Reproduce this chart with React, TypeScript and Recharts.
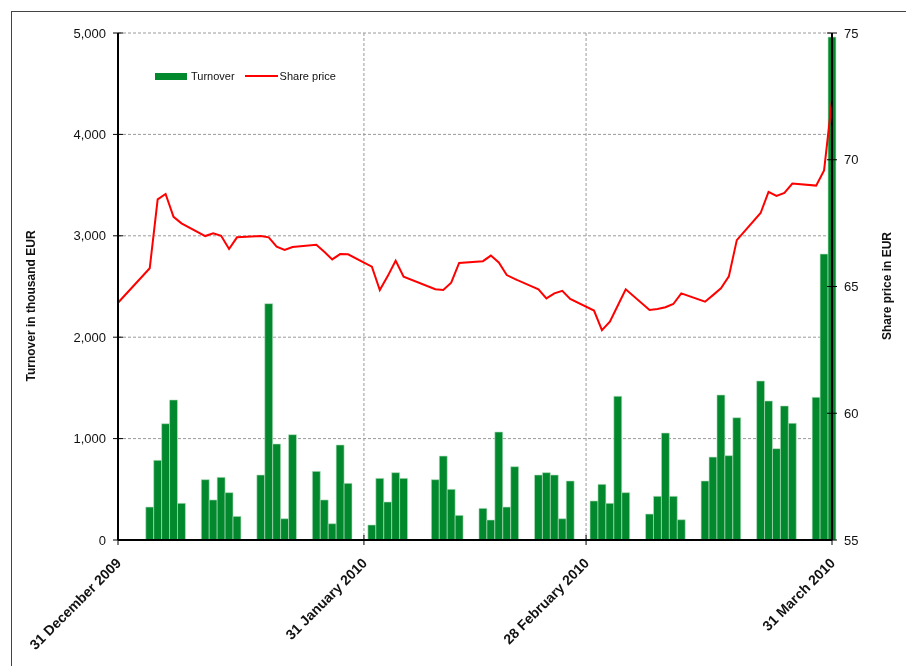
import React from 'react';
import {
  ComposedChart,
  Bar,
  Line,
  XAxis,
  YAxis,
  CartesianGrid,
  Legend,
  Label,
} from 'recharts';

// trading days, counted from 31 December 2009 (day 0)
const days = [
  0,
  4, 5, 6, 7, 8,
  11, 12, 13, 14, 15,
  18, 19, 20, 21, 22,
  25, 26, 27, 28, 29,
  32, 33, 34, 35, 36,
  40, 41, 42, 43,
  46, 47, 48, 49, 50,
  53, 54, 55, 56, 57,
  60, 61, 62, 63, 64,
  67, 68, 69, 70, 71,
  74, 75, 76, 77, 78,
  81, 82, 83, 84, 85,
  88, 89, 90,
];

// turnover in thousand EUR
const turnover = [
  null,
  325, 786, 1147, 1381, 362,
  595, 395, 618, 467, 233,
  641, 2331, 947, 210, 1039,
  677, 395, 161, 937, 559,
  148, 608, 375, 664, 608,
  595, 828, 500, 243,
  312, 197, 1065, 325, 723,
  641, 664, 641, 210, 582,
  385, 549, 362, 1417, 467,
  256, 431, 1055, 431, 200,
  582, 818, 1430, 832, 1206,
  1568, 1371, 901, 1322, 1151,
  1407, 2820, 4960,
];

// share price in EUR
const sharePrice = [
  64.36,
  65.72, 68.44, 68.65, 67.75, 67.49,
  66.99, 67.1, 67.0, 66.48, 66.94,
  66.99, 66.94, 66.57, 66.44, 66.56,
  66.65, 66.37, 66.07, 66.28, 66.27,
  65.78, 64.86, 65.41, 66.02, 65.39,
  64.89, 64.86, 65.15, 65.93,
  66.0, 66.22, 65.95, 65.45, 65.3,
  64.89, 64.53, 64.73, 64.83, 64.51,
  64.05, 63.28, 63.61, 64.25, 64.89,
  64.07, 64.11, 64.18, 64.31, 64.73,
  64.4, 64.66, 64.93, 65.4, 66.83,
  67.9, 68.73, 68.57, 68.69, 69.06,
  68.98, 69.58, 72.35,
];

const xTicks = [0, 31, 59, 90];
const xTickLabels = ['31 December 2009', '31 January 2010', '28 February 2010', '31 March 2010'];
const turnoverTicks = [0, 1000, 2000, 3000, 4000, 5000];
const priceTicks = [55, 60, 65, 70, 75];

const data = days.map((day, i) => ({ day, turnover: turnover[i], price: sharePrice[i] }));

const FONT = 'Liberation Sans, Arial, sans-serif';
const GREEN = '#03892d';
const RED = '#ff0000';

const W = 898;
const H = 650;
const margin = { top: 25, right: 0, bottom: 18, left: 0 };
const leftAxisW = 110;
const rightAxisW = 74;
const plotW = W - leftAxisW - rightAxisW;
const LABEL_GAP = 12;
const TICK = 5;

// tick marks cross the axis line, so they are drawn here with the label
const DateTick = (props: any) => {
  const { x, y, payload } = props;
  const idx = xTicks.indexOf(payload.value);
  return (
    <g>
      <line x1={x} x2={x} y1={y - TICK} y2={y + TICK} stroke="#000" />
      <g transform={`translate(${x + 4},${y + 24}) rotate(-45)`}>
        <text x={0} y={0} textAnchor="end" fontFamily={FONT} fontSize={14} fontWeight="bold" fill="#111">
          {xTickLabels[idx]}
        </text>
      </g>
    </g>
  );
};

const LeftTick = (props: any) => {
  const { x, y, payload } = props;
  const ax = x + LABEL_GAP;
  return (
    <g>
      <line x1={ax - TICK} x2={ax + TICK} y1={y} y2={y} stroke="#000" />
      <text x={x} y={y} dy="0.355em" textAnchor="end" fontFamily={FONT} fontSize={13} fill="#111">
        {payload.value.toLocaleString('en-US')}
      </text>
    </g>
  );
};

const RightTick = (props: any) => {
  const { x, y, payload } = props;
  const ax = x - LABEL_GAP;
  return (
    <g>
      <line x1={ax - TICK} x2={ax + TICK} y1={y} y2={y} stroke="#000" />
      <text x={x} y={y} dy="0.355em" textAnchor="start" fontFamily={FONT} fontSize={13} fill="#111">
        {payload.value}
      </text>
    </g>
  );
};

const renderLegend = () => (
  <div style={{ display: 'flex', alignItems: 'center', fontFamily: FONT, fontSize: 11, color: '#111', whiteSpace: 'nowrap' }}>
    <span style={{ display: 'inline-block', width: 32, height: 7, background: GREEN }} />
    <span style={{ marginLeft: 4 }}>Turnover</span>
    <span style={{ display: 'inline-block', width: 33, height: 2, background: RED, marginLeft: 10 }} />
    <span style={{ marginLeft: 2 }}>Share price</span>
  </div>
);

const leftTitle = () => (
  <text x={27} y={298} transform="rotate(-90, 27, 298)" textAnchor="middle" fontFamily={FONT} fontSize={12} fontWeight="bold" fill="#111">
    Turnover in thousand EUR
  </text>
);

const rightTitle = () => (
  <text x={883} y={278} transform="rotate(-90, 883, 278)" textAnchor="middle" fontFamily={FONT} fontSize={12} fontWeight="bold" fill="#111">
    Share price in EUR
  </text>
);

export default function App() {
  return (
    <div style={{ position: 'relative', width: W, height: H }}>
      <div
        style={{
          position: 'fixed',
          left: 11,
          top: 11,
          width: 895,
          height: 655,
          borderTop: '1px solid #444',
          borderLeft: '1px solid #444',
          pointerEvents: 'none',
        }}
      />
      <ComposedChart width={W} height={H} data={data} margin={margin}>
        <CartesianGrid
          yAxisId="left"
          stroke="#9a9a9a"
          strokeDasharray="3 2"
          horizontalValues={turnoverTicks}
          verticalValues={xTicks}
        />
        <XAxis
          dataKey="day"
          type="number"
          domain={[0, 90]}
          ticks={xTicks}
          interval={0}
          height={100}
          axisLine={{ stroke: '#000', strokeWidth: 2 }}
          tickLine={false}
          tickSize={0}
          tickMargin={0}
          tick={<DateTick />}
        />
        <YAxis
          yAxisId="left"
          width={leftAxisW}
          domain={[0, 5000]}
          ticks={turnoverTicks}
          interval={0}
          axisLine={{ stroke: '#000', strokeWidth: 2 }}
          tickLine={false}
          tickSize={0}
          tickMargin={LABEL_GAP}
          tick={<LeftTick />}
        >
          <Label content={leftTitle} />
        </YAxis>
        <YAxis
          yAxisId="right"
          orientation="right"
          width={rightAxisW}
          domain={[55, 75]}
          ticks={priceTicks}
          interval={0}
          axisLine={{ stroke: '#000', strokeWidth: 2 }}
          tickLine={false}
          tickSize={0}
          tickMargin={LABEL_GAP}
          tick={<RightTick />}
        >
          <Label content={rightTitle} />
        </YAxis>
        <Legend
          verticalAlign="middle"
          align="center"
          content={renderLegend}
          wrapperStyle={{ position: 'absolute', left: 147, top: 62, width: 'auto' }}
        />
        <Bar
          yAxisId="left"
          dataKey="turnover"
          name="Turnover"
          fill={GREEN}
          stroke="#b9e0c2"
          strokeWidth={0.6}
          barSize={plotW / 90 - 0.02}
          isAnimationActive={false}
        />
        <Line
          yAxisId="right"
          dataKey="price"
          name="Share price"
          type="linear"
          stroke={RED}
          strokeWidth={2}
          dot={false}
          activeDot={false}
          isAnimationActive={false}
        />
      </ComposedChart>
    </div>
  );
}
